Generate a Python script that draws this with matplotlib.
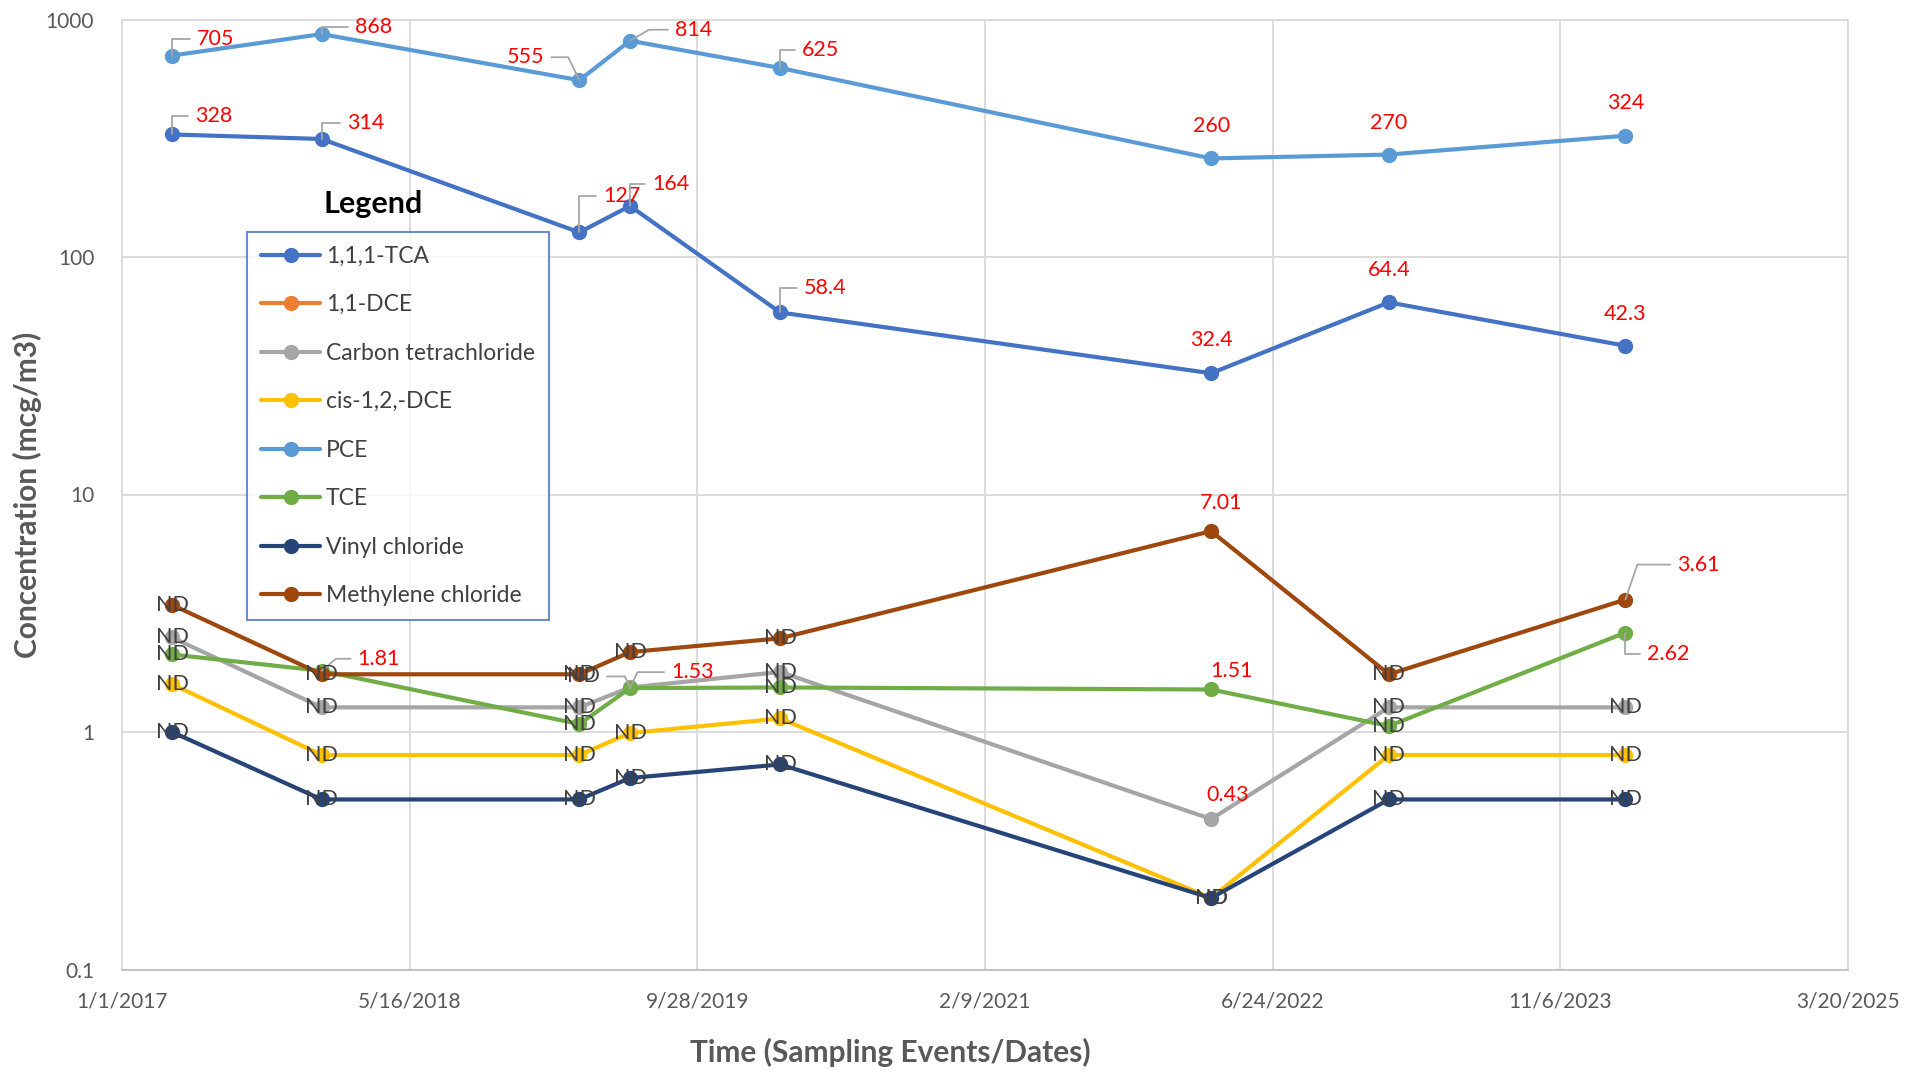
import numpy as np
import pandas as pd
import matplotlib
matplotlib.use('Agg')
import matplotlib.pyplot as plt
from matplotlib.ticker import NullLocator

plt.rcParams['font.family'] = ['Lato', 'DejaVu Sans']

# sampling events
dates = ['2017-03-29', '2017-12-14', '2019-03-07', '2019-06-03',
         '2020-02-19', '2022-03-09', '2023-01-12', '2024-02-27']

names = ['1,1,1-TCA', '1,1-DCE', 'Carbon tetrachloride', 'cis-1,2,-DCE',
         'PCE', 'TCE', 'Vinyl chloride', 'Methylene chloride']

tca = [328, 314, 127, 164, 58.4, 32.4, 64.4, 42.3]
dce11 = [np.nan] * 8
ct = [2.5, 1.27, 1.27, 1.54, 1.79, 0.43, 1.27, 1.27]
cis = [1.59, 0.80, 0.80, 0.99, 1.14, 0.2, 0.80, 0.80]
pce = [705, 868, 555, 814, 625, 260, 270, 324]
tce = [2.12, 1.81, 1.08, 1.53, 1.54, 1.51, 1.06, 2.62]
vc = [1.0, 0.52, 0.52, 0.64, 0.73, 0.2, 0.52, 0.52]
mc = [3.43, 1.75, 1.75, 2.17, 2.48, 7.01, 1.75, 3.61]

# 1 = detected (value shown), 0 = ND
tca_det = [1, 1, 1, 1, 1, 1, 1, 1]
dce11_det = [0] * 8
ct_det = [0, 0, 0, 0, 0, 1, 0, 0]
cis_det = [0, 0, 0, 0, 0, 0, 0, 0]
pce_det = [1, 1, 1, 1, 1, 1, 1, 1]
tce_det = [0, 1, 0, 1, 0, 1, 0, 1]
vc_det = [0, 0, 0, 0, 0, 0, 0, 0]
mc_det = [0, 0, 0, 0, 0, 1, 0, 1]

series = [tca, dce11, ct, cis, pce, tce, vc, mc]
detected = [tca_det, dce11_det, ct_det, cis_det, pce_det, tce_det, vc_det, mc_det]
colors = ['#4472C4', '#ED7D31', '#A5A5A5', '#FFC000',
          '#5B9BD5', '#70AD47', '#264478', '#9E480E']

x_tick_labels = ['1/1/2017', '5/16/2018', '9/28/2019', '2/9/2021',
                 '6/24/2022', '11/6/2023', '3/20/2025']
y_ticks = [0.1, 1, 10, 100, 1000]
y_tick_labels = ['0.1', '1', '10', '100', '1000']

# label placement: (series, point) -> (dx px, dy px, ha, leader angle or None)
label_pos = {
    (0, 0): (23, 18, 'left', 90), (0, 1): (25, 16, 'left', 90),
    (0, 2): (24, 36, 'left', 90), (0, 3): (22, 22, 'left', 90),
    (0, 4): (24, 24, 'left', 90), (0, 5): (0, 33, 'center', None),
    (0, 6): (0, 32, 'center', None), (0, 7): (0, 32, 'center', None),
    (4, 0): (25, 17, 'left', 90), (4, 1): (33, 7, 'left', 90),
    (4, 2): (-35, 23, 'right', 116), (4, 3): (45, 11, 'left', 30),
    (4, 4): (22, 18, 'left', 90), (4, 5): (0, 32, 'center', None),
    (4, 6): (0, 32, 'center', None), (4, 7): (0, 33, 'center', None),
    (7, 5): (10, 28, 'center', None), (7, 7): (52, 35, 'left', 71),
    (5, 1): (36, 12, 'left', 40), (5, 3): (41, 16, 'left', 65),
    (5, 5): (20, 18, 'center', None), (5, 7): (22, -21, 'left', 90),
    (2, 5): (17, 24, 'center', None),
    (2, 3): (-30, 11, 'right', 115),
}

x = pd.to_datetime(dates)

fig = plt.figure(figsize=(19.19, 10.72), dpi=100)
ax = fig.add_axes([122 / 1919, 1 - 969.5 / 1072, 1726 / 1919, 950 / 1072])

handles = []
for vals, col, name in zip(series, colors, names):
    h, = ax.plot(x, vals, color=col, lw=3, marker='o', ms=10,
                 solid_capstyle='round', label=name, zorder=3)
    handles.append(h)

for s, (vals, det) in enumerate(zip(series, detected)):
    for i, (xi, v) in enumerate(zip(x, vals)):
        if np.isnan(v):
            continue
        txt = f'{v:g}' if det[i] else 'ND'
        col = 'red' if det[i] else '#404040'
        if (s, i) in label_pos:
            dx, dy, ha, ang = label_pos[(s, i)]
            props = None
            if ang is not None:
                props = dict(arrowstyle='-', color='#A6A6A6', lw=1.3,
                             connectionstyle=f'angle,angleA=0,angleB={ang},rad=0',
                             relpos=(0 if ha == 'left' else 1, 0.5),
                             shrinkA=3, shrinkB=0)
            ax.annotate(txt, (xi, v), xytext=(dx, dy), textcoords='offset pixels',
                        ha=ha, va='center', color=col, fontsize=15.5,
                        arrowprops=props, zorder=5)
        else:
            ax.annotate(txt, (xi, v), ha='center', va='center', color=col,
                        fontsize=15.5, zorder=5)

ax.set_yscale('log')
ax.set_ylim(0.1, 1000)
ax.set_yticks(y_ticks)
ax.set_yticklabels(y_tick_labels)
ax.yaxis.set_minor_locator(NullLocator())

xt = pd.to_datetime(x_tick_labels, format='%m/%d/%Y')
ax.set_xlim(xt[0], xt[-1])
ax.set_xticks(xt)
ax.set_xticklabels(x_tick_labels)

ax.grid(True, color='#D9D9D9', lw=1.3)
ax.set_axisbelow(True)
ax.tick_params(length=0, labelsize=15, labelcolor='#595959')
ax.tick_params(axis='x', pad=16)
ax.tick_params(axis='y', pad=20)
for sp in ax.spines.values():
    sp.set_color('#D9D9D9')
    sp.set_linewidth(1.3)
ax.spines['bottom'].set_color('#BFBFBF')

leg = ax.legend(handles=handles, loc='upper left',
                bbox_to_anchor=(247 / 1919, 1 - 232 / 1072),
                bbox_transform=fig.transFigure, fontsize=16.5,
                frameon=True, fancybox=False, borderpad=0.6,
                labelspacing=1.2, handlelength=2.6, handletextpad=0.25,
                borderaxespad=0)
leg.get_frame().set_edgecolor('#4472C4')
leg.get_frame().set_linewidth(1.5)
for t in leg.get_texts():
    t.set_color('#404040')

fig.text(373 / 1919, 1 - 204 / 1072, 'Legend', ha='center', va='center',
         fontsize=22, fontweight='bold', color='black')
fig.text(890 / 1919, 1 - 1052 / 1072, 'Time (Sampling Events/Dates)',
         ha='center', va='center', fontsize=21.5, fontweight='bold', color='#595959')
fig.text(27 / 1919, 1 - 495 / 1072, 'Concentration (mcg/m3)', rotation=90,
         ha='center', va='center', fontsize=21.5, fontweight='bold', color='#595959')

fig.savefig('out.png', dpi=100)
